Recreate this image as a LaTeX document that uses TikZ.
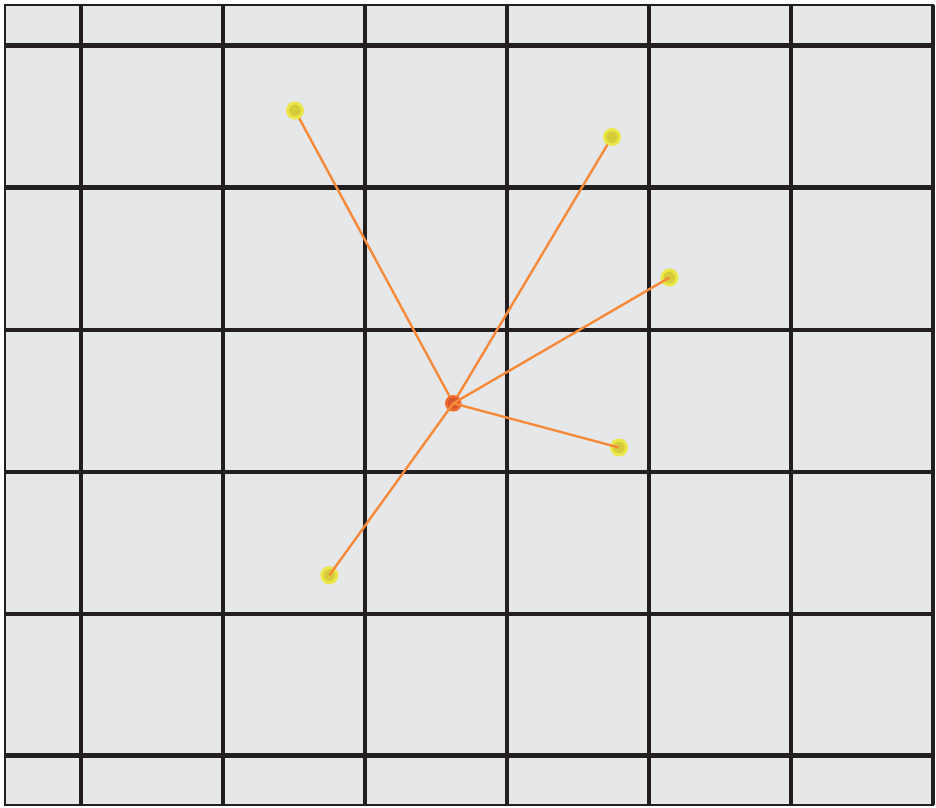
\documentclass[tikz,border=0pt]{standalone}
\pgfdeclarelayer{gridlayer}
\pgfdeclarelayer{under}
\pgfsetlayers{gridlayer,under,main}
\definecolor{bgc}{HTML}{E6E7E8}
\definecolor{gridc}{HTML}{231F20}
\definecolor{linec}{HTML}{F58A3A}
\definecolor{yring}{HTML}{EBE64A}
\definecolor{yin}{HTML}{D6CC3A}
\definecolor{oring}{HTML}{EE6A2E}
\definecolor{oin}{HTML}{D8522A}
\tikzset{
  gridline/.style={draw=gridc, line width=4.4pt},
  borderline/.style={draw=gridc, line width=1.6pt, fill=bgc},
  ydot/.style={circle, fill=yin, draw=yring, line width=3pt, minimum size=15pt, inner sep=0pt},
  odot/.style={circle, fill=oin, draw=oring, line width=2.5pt, minimum size=14pt, inner sep=0pt},
  ray/.style={draw=linec, line width=2.4pt},
}
\begin{document}
\begin{tikzpicture}[x=1pt,y=-1pt]
\useasboundingbox (0,0) rectangle (936,807);
\begin{pgfonlayer}{gridlayer}
\fill[white] (0,0) rectangle (936,807);
\draw[borderline] (5,5) rectangle (933,805);
\foreach \x in {80.8,222.9,365,507,649,791,933} \draw[gridline] (\x,5) -- (\x,805);
\foreach \y in {45.5,187.6,329.7,471.8,613.9,755.5} \draw[gridline] (5,\y) -- (933,\y);
\end{pgfonlayer}
\node[odot] (c) at (453.3,403.3) {};
\node[ydot] (p1) at (295,110.5) {};
\node[ydot] (p2) at (612,137) {};
\node[ydot] (p3) at (669.5,277.5) {};
\node[ydot] (p4) at (619,447.5) {};
\node[ydot] (p5) at (329.3,575.3) {};
\begin{pgfonlayer}{under}
\draw[ray] (c.center) -- (p1.center);
\draw[ray] (c.center) -- (p2.center);
\end{pgfonlayer}
\draw[ray] (c.center) -- (p3.center);
\draw[ray] (c.center) -- (p4.center);
\draw[ray] (c.center) -- (p5.center);
\end{tikzpicture}
\end{document}
